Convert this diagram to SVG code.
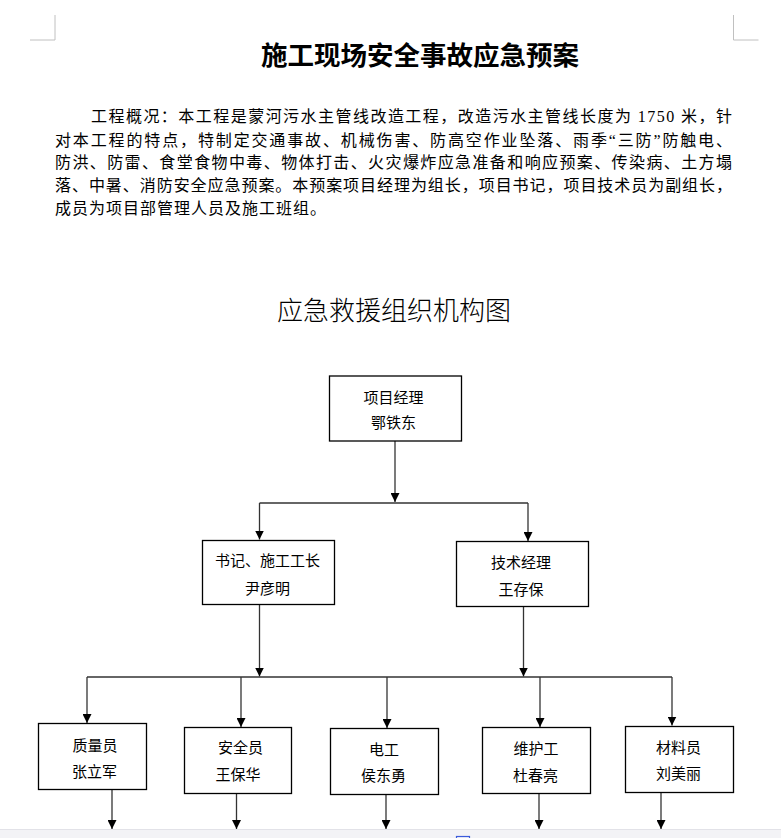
<svg xmlns="http://www.w3.org/2000/svg" width="781" height="838" viewBox="0 0 781 838">
<style>
.bg{fill:#ffffff}
.crop{stroke:#c0c0c0;stroke-width:1;fill:none}
.title{font-family:"Liberation Serif","Noto Sans CJK SC",serif;font-size:26.5px;font-weight:bold;fill:#000;text-anchor:middle}
.para{font-family:"Liberation Serif","Noto Sans CJK SC",serif;font-size:16px;fill:#000}
.sub{font-family:"Noto Sans CJK SC",sans-serif;font-size:26px;font-weight:300;fill:#000;text-anchor:middle}
.box{fill:#fff;stroke:#000;stroke-width:1.3}
.lbl{font-family:"Noto Sans CJK SC",sans-serif;font-size:15px;fill:#000;text-anchor:middle}
.ln{stroke:#333;stroke-width:1.3;fill:none}
.arr{stroke:#333;stroke-width:1.3;fill:none;marker-end:url(#ah)}
</style>
<defs>
<marker id="ah" viewBox="0 0 10 10" refX="10" refY="5" markerWidth="9" markerHeight="9" markerUnits="userSpaceOnUse" orient="auto"><path d="M0,0 L10,5 L0,10 z" fill="#000"/></marker>
</defs>
<rect class="bg" x="0" y="0" width="781" height="838"/>
<path class="crop" d="M55,15 V40 H30 M733.5,15 V40 H758.5"/>
<text class="title" x="420" y="64.5">施工现场安全事故应急预案</text>
<text class="para" x="91" y="122" textLength="641" lengthAdjust="spacing">工程概况：本工程是蒙河污水主管线改造工程，改造污水主管线长度为 1750 米，针</text>
<text class="para" x="55" y="146" textLength="677" lengthAdjust="spacing">对本工程的特点，特制定交通事故、机械伤害、防高空作业坠落、雨季“三防”防触电、</text>
<text class="para" x="55" y="168" textLength="677" lengthAdjust="spacing">防洪、防雷、食堂食物中毒、物体打击、火灾爆炸应急准备和响应预案、传染病、土方塌</text>
<text class="para" x="55" y="190.5" textLength="677" lengthAdjust="spacing">落、中暑、消防安全应急预案。本预案项目经理为组长，项目书记，项目技术员为副组长，</text>
<text class="para" x="55" y="214" letter-spacing="1">成员为项目部管理人员及施工班组。</text>
<text class="sub" x="394" y="319.5">应急救援组织机构图</text>
<g id="footer-bar">
<rect x="0" y="829" width="781" height="9" fill="#f3f3f6"/>
<line x1="0" y1="829.5" x2="781" y2="829.5" stroke="#e2e2e8" stroke-width="1"/>
<rect x="456.5" y="836.5" width="13" height="6" fill="none" stroke="#3b5bdb" stroke-width="1.2"/>
</g>
<g id="connectors">
<path class="arr" d="M395,441 V502"/>
<path class="ln" d="M259.5,503 H528"/>
<path class="arr" d="M259.5,503 V539.5"/>
<path class="arr" d="M528,503 V541"/>
<path class="arr" d="M259.5,604 V676.5"/>
<path class="arr" d="M523.5,607 V676.5"/>
<path class="ln" d="M87,677 H672"/>
<path class="arr" d="M87,677 V723"/>
<path class="arr" d="M241,677 V727"/>
<path class="arr" d="M387,677 V728"/>
<path class="arr" d="M540,677 V727"/>
<path class="arr" d="M672,677 V725.5"/>
<path class="arr" d="M112,789 V829"/>
<path class="arr" d="M236.5,793 V829"/>
<path class="arr" d="M386,795 V829"/>
<path class="arr" d="M539,793 V829"/>
<path class="arr" d="M661,792 V829"/>
</g>
<g id="n-pm"><rect class="box" x="329.5" y="376" width="132" height="65"/><text class="lbl" x="393.5" y="403">项目经理</text><text class="lbl" x="393.5" y="428">鄂铁东</text></g>
<g id="n-sec"><rect class="box" x="202.5" y="540.5" width="132" height="64"/><text class="lbl" x="267.5" y="565.5">书记、施工工长</text><text class="lbl" x="267.5" y="594">尹彦明</text></g>
<g id="n-tech"><rect class="box" x="456.5" y="541.5" width="132" height="65"/><text class="lbl" x="521" y="568">技术经理</text><text class="lbl" x="521" y="595">王存保</text></g>
<g id="n-qa"><rect class="box" x="38.5" y="723.5" width="108" height="66"/><text class="lbl" x="95" y="750.5">质量员</text><text class="lbl" x="94.5" y="777">张立军</text></g>
<g id="n-safety"><rect class="box" x="184.5" y="727.5" width="107" height="66"/><text class="lbl" x="240.5" y="753">安全员</text><text class="lbl" x="238" y="779.5">王保华</text></g>
<g id="n-elec"><rect class="box" x="330.5" y="728.5" width="108" height="66"/><text class="lbl" x="384" y="755">电工</text><text class="lbl" x="383.5" y="780.5">侯东勇</text></g>
<g id="n-maint"><rect class="box" x="482.5" y="727.5" width="108" height="66"/><text class="lbl" x="536" y="754">维护工</text><text class="lbl" x="535.5" y="780.5">杜春亮</text></g>
<g id="n-mat"><rect class="box" x="625.5" y="726.5" width="108" height="66"/><text class="lbl" x="678.5" y="753">材料员</text><text class="lbl" x="678.5" y="779">刘美丽</text></g>
</svg>
